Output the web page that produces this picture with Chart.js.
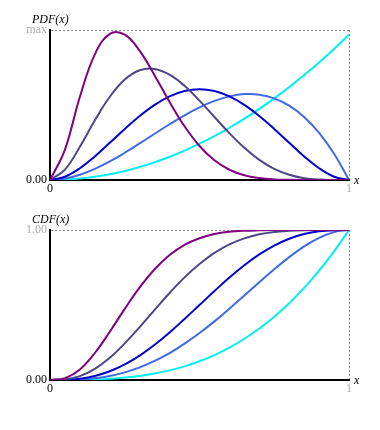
<!DOCTYPE html>
<html lang="en">
<head>
  <meta charset="UTF-8">
  <title>PDF / CDF</title>
  <script src="https://cdn.jsdelivr.net/npm/chart.js"></script>
  <style>
    body {
      margin: 0;
      background: #fff;
    }
    canvas {
      display: block;
    }
  </style>
</head>
<body>

<canvas id="pdfChart" width="380" height="200"></canvas>
<canvas id="cdfChart" width="380" height="200"></canvas>

<script>
// x positions (0 .. 1)
const xs = [0, .05, .1, .15, .2, .25, .3, .35, .4, .45, .5, .55, .6, .65, .7, .75, .8, .85, .9, .95, 1];

// PDF curves
const pdfPurple = [0, .629, 1.722, 2.597, 3.020, 3.004, 2.668, 2.162, 1.612, 1.110, .703, .407, .212, .098, .039, .012, .003, 0, 0, 0, 0];
const pdfSlate  = [0, .214, .689, 1.233, 1.720, 2.076, 2.269, 2.296, 2.177, 1.946, 1.641, 1.302, .968, .666, .417, .231, .108, .038, .009, .001, 0];
const pdfBlue   = [0, .068, .243, .488, .768, 1.055, 1.323, 1.553, 1.728, 1.838, 1.875, 1.838, 1.728, 1.553, 1.323, 1.055, .768, .488, .243, .068, 0];
const pdfRoyal  = [0, .029, .108, .230, .384, .563, .756, .956, 1.152, 1.337, 1.5, 1.634, 1.728, 1.775, 1.764, 1.688, 1.536, 1.301, .972, .542, 0];
const pdfCyan   = [0, .008, .03, .068, .12, .188, .27, .368, .48, .608, .75, .908, 1.08, 1.268, 1.47, 1.688, 1.92, 2.168, 2.43, 2.708, 3];

// CDF curves
const cdfPurple = [0, .012, .070, .180, .322, .474, .617, .738, .833, .901, .945, .973, .988, .995, .998, 1, 1, 1, 1, 1, 1];
const cdfSlate  = [0, .004, .026, .074, .148, .244, .353, .468, .580, .684, .773, .847, .904, .944, .971, .987, .995, .999, 1, 1, 1];
const cdfBlue   = [0, .001, .009, .027, .058, .104, .163, .235, .317, .407, .5, .593, .683, .765, .837, .896, .942, .973, .991, .999, 1];
const cdfRoyal  = [0, 0, .004, .012, .027, .051, .084, .127, .179, .242, .313, .391, .475, .563, .652, .738, .819, .891, .948, .986, 1];
const cdfCyan   = [0, 0, .001, .003, .008, .016, .027, .043, .064, .091, .125, .166, .216, .275, .343, .422, .512, .614, .729, .857, 1];

const colors = ['#800080', '#4b4788', '#0000cd', '#4169e1', '#00f0f0'];

const pdfMax = 3.1;
const serif = '"Liberation Serif", "DejaVu Serif", serif';

function makeSets(list) {
  return list.map((ys, i) => ({
    data: ys.map((y, j) => ({ x: xs[j], y: y })),
    borderColor: colors[i],
    borderWidth: 2,
    pointRadius: 0,
    fill: false,
    tension: 0.4
  }));
}

// title above the y axis and the "x" at the end of the x axis
const axisText = {
  id: 'axisText',
  afterDraw(chart, args, opts) {
    const { ctx, chartArea } = chart;
    ctx.save();
    ctx.fillStyle = '#000';
    ctx.font = 'italic 12px ' + serif;
    ctx.textBaseline = 'middle';
    ctx.textAlign = 'left';
    ctx.fillText(opts.title, chartArea.left - 18, chartArea.top - 10);
    ctx.fillText('x', chartArea.right + 5, chartArea.bottom + 1);
    ctx.restore();
  }
};

function makeChart(id, sets, yMax, topLabel, title) {
  return new Chart(document.getElementById(id), {
    type: 'line',
    data: { datasets: makeSets(sets) },
    plugins: [axisText],
    options: {
      responsive: false,
      animation: false,
      layout: { padding: { top: 30, right: 31, left: 0, bottom: 0 } },
      plugins: {
        legend: { display: false },
        tooltip: { enabled: false },
        axisText: { title: title }
      },
      scales: {
        x: {
          type: 'linear',
          min: 0,
          max: 1,
          afterBuildTicks: s => { s.ticks = [{ value: 0 }, { value: 1 }]; },
          afterFit: s => { s.height = 20; },
          border: { color: '#000', width: 2, dash: [2, 2] },
          grid: {
            drawTicks: false,
            color: c => c.tick && c.tick.value === 1 ? '#888' : 'rgba(0,0,0,0)',
            lineWidth: 1
          },
          ticks: {
            autoSkip: false,
            maxRotation: 0,
            padding: 2,
            font: { family: serif, size: 12 },
            color: c => c.tick && c.tick.value === 1 ? '#aaa' : '#000',
            callback: v => v === 0 ? '0' : '1'
          }
        },
        y: {
          min: 0,
          max: yMax,
          afterBuildTicks: s => { s.ticks = [{ value: 0 }, { value: yMax }]; },
          afterFit: s => { s.width = 50; },
          border: { color: '#000', width: 2, dash: [2, 2] },
          grid: {
            drawTicks: false,
            color: c => c.tick && c.tick.value === yMax ? '#888' : 'rgba(0,0,0,0)',
            lineWidth: 1
          },
          ticks: {
            autoSkip: false,
            padding: 3,
            font: { family: serif, size: 12 },
            color: c => c.tick && c.tick.value === yMax ? '#aaa' : '#000',
            callback: v => v === 0 ? '0.00' : topLabel
          }
        }
      }
    }
  });
}

makeChart('pdfChart', [pdfPurple, pdfSlate, pdfBlue, pdfRoyal, pdfCyan], pdfMax, 'max', 'PDF(x)');
makeChart('cdfChart', [cdfPurple, cdfSlate, cdfBlue, cdfRoyal, cdfCyan], 1, '1.00', 'CDF(x)');
</script>

</body>
</html>
